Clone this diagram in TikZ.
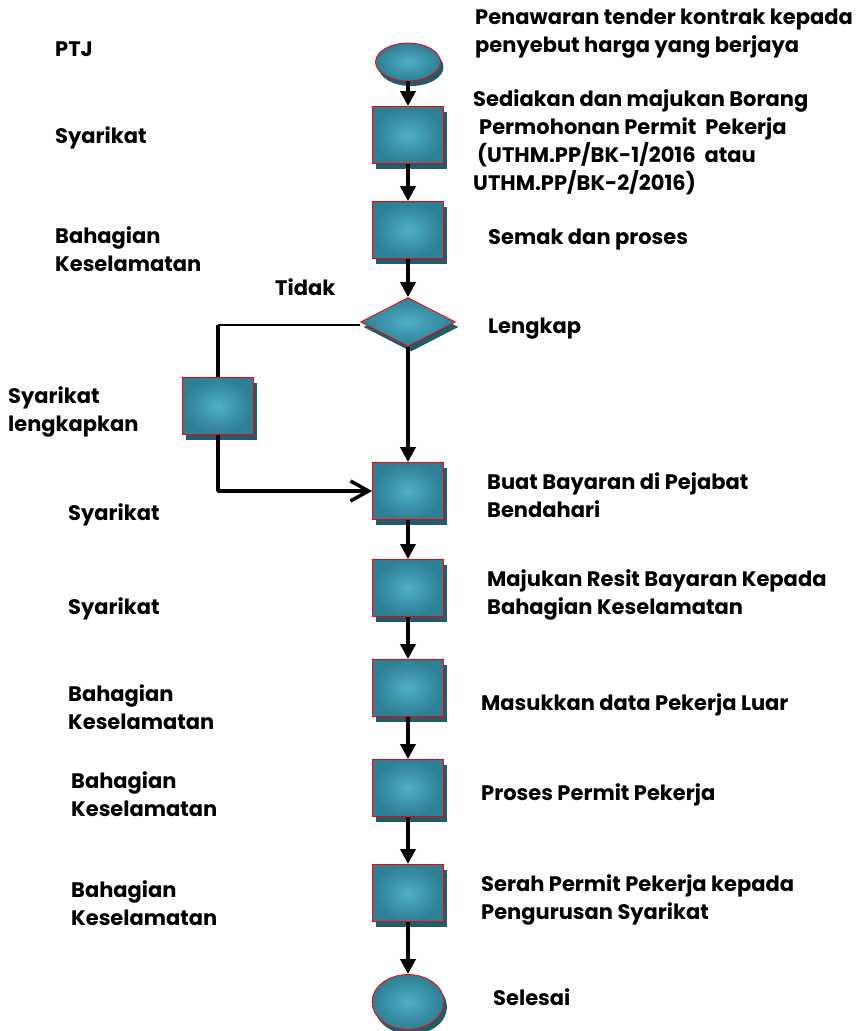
\documentclass[tikz,border=0pt]{standalone}
\usepackage{fontspec}
\setmainfont{Poppins}
\usepackage{tikz}
\usetikzlibrary{arrows.meta,shapes.geometric,shadows}

\definecolor{tealin}{HTML}{4DAFC7}
\definecolor{tealout}{HTML}{2E7E94}
\definecolor{tealshade}{HTML}{225B6A}

\tikzset{
  stepbox/.style={rectangle, draw=red, line width=0.8pt, minimum width=71pt, minimum height=57pt,
    inner color=tealin, outer color=tealout,
    drop shadow={shadow xshift=3pt, shadow yshift=-5pt, fill=tealshade, opacity=1}},
  endcap/.style={ellipse, draw=red, line width=0.8pt, inner color=tealin, outer color=tealout,
    drop shadow={shadow xshift=3pt, shadow yshift=-5pt, fill=tealshade, opacity=1}},
  testbox/.style={diamond, aspect=2, draw=red, line width=0.8pt, minimum width=95pt, minimum height=49pt,
    inner color=tealin, outer color=tealout,
    drop shadow={shadow xshift=3pt, shadow yshift=-5pt, fill=tealshade, opacity=1}},
  lbl/.style={anchor=west, inner sep=0pt, align=left, font=\fontsize{21}{28}\selectfont\bfseries},
  flow/.style={line width=3.5pt, -{Triangle[width=15pt,length=15pt]}},
}

\begin{document}
\begin{tikzpicture}[x=1pt, y=-1pt]

\useasboundingbox (0,0) rectangle (867,1031);

% main column
\node[endcap, minimum width=65pt, minimum height=38pt] (start) at (408,62) {};
\node[stepbox] (b1) at (408,135) {};
\node[stepbox] (b2) at (408,230) {};
\node[testbox] (dia) at (408,322) {};
\node[stepbox] (b3) at (408,491) {};
\node[stepbox] (b4) at (408,588) {};
\node[stepbox] (b5) at (408,688) {};
\node[stepbox] (b6) at (408,788) {};
\node[stepbox] (b7) at (408,893) {};
\node[endcap, minimum width=72pt, minimum height=55pt] (stop) at (408,1002) {};

% side loop
\node[stepbox] (lb) at (218,406) {};
\coordinate (corner) at (218,325);

\foreach \a/\b in {start/b1, b1/b2, b2/dia, dia/b3, b3/b4, b4/b5, b5/b6, b6/b7, b7/stop}
    \draw[flow] (\a) -- (\b);

\draw[line width=1.5pt] (dia.west) ++(0,3) -- (corner);
\draw[line width=3.5pt] (corner) -- (lb.north);
\draw[line width=3.5pt, -{Straight Barb[length=18pt,width=20pt]}, line join=round] (lb.south) |- (b3.west);

% who
\node[lbl] (ptj) at (55,49) {PTJ};
\node[lbl] (who1) at (55,138) {Syarikat};
\node[lbl] (who2) at (55,249) {Bahagian\\Keselamatan};
\node[lbl] (tidak) at (275,287) {Tidak};
\node[lbl] (who3) at (8,412) {Syarikat\\lengkapkan};
\node[lbl] (who4) at (68,515) {Syarikat};
\node[lbl] (who5) at (68,609) {Syarikat};
\node[lbl] (who6) at (68,707) {Bahagian\\Keselamatan};
\node[lbl] (who7) at (71,794) {Bahagian\\Keselamatan};
\node[lbl] (who8) at (71,903) {Bahagian\\Keselamatan};

% what
\node[lbl] (what0) at (475,34) {Penawaran tender kontrak kepada\\penyebut harga yang berjaya};
\node[lbl] (what1) at (473,142) {Sediakan dan majukan Borang\\\hspace{6pt}Permohonan Permit\ \ Pekerja\\\hspace{4pt}(UTHM.PP/BK-1/2016\ \ atau\\UTHM.PP/BK-2/2016)};
\node[lbl] (what2) at (488,240) {Semak dan proses};
\node[lbl] (what3) at (488,329) {Lengkap};
\node[lbl] (what4) at (487,495) {Buat Bayaran di Pejabat\\Bendahari};
\node[lbl] (what5) at (487,595) {Majukan Resit Bayaran Kepada\\Bahagian Keselamatan};
\node[lbl] (what6) at (481,705) {Masukkan data Pekerja Luar};
\node[lbl] (what7) at (481,795) {Proses Permit Pekerja};
\node[lbl] (what8) at (481,900) {Serah Permit Pekerja kepada\\Pengurusan Syarikat};
\node[lbl] (what9) at (493,997) {Selesai};

\end{tikzpicture}
\end{document}
